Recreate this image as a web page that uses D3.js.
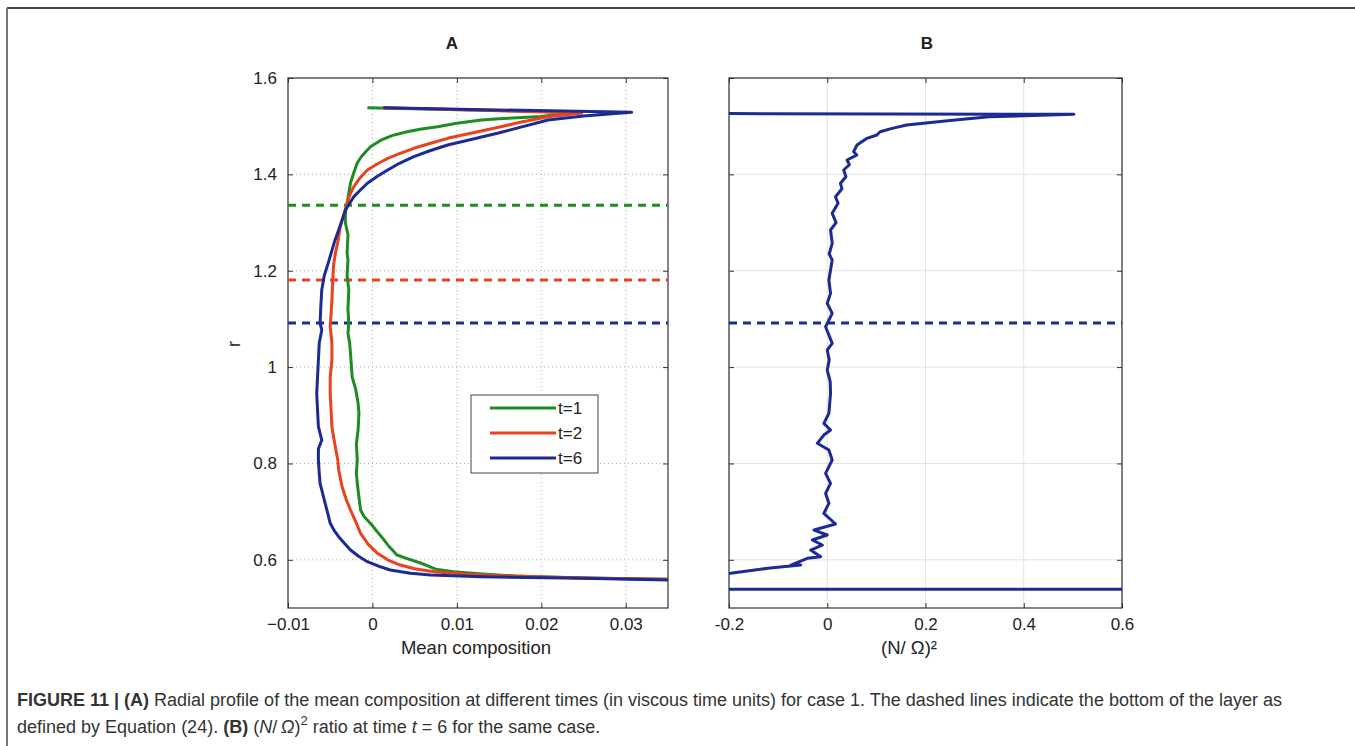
<!DOCTYPE html>
<html>
<head>
<meta charset="utf-8">
<script src="https://cdn.jsdelivr.net/npm/d3@7"></script>
<style>
  body { margin: 0; background: #fff; }
  text { font-family: "Liberation Sans", Arial, Helvetica, sans-serif; }
</style>
</head>
<body>
<svg id="fig" width="1355" height="746"></svg>
<script>
// ---- data: [value, r] ----
var profileT1 = [[-0.0006,1.538],[0.0242,1.529],[0.0200,1.520],[0.0155,1.516],[0.0129,1.513],[0.0100,1.506],[0.0077,1.499],[0.0058,1.494],[0.0041,1.4885],[0.0024,1.481],[0.0010,1.471],[-0.0002,1.458],[-0.0006,1.4506],[-0.0013,1.437],[-0.0018,1.4236],[-0.0022,1.404],[-0.0026,1.382],[-0.0028,1.361],[-0.0030,1.3406],[-0.0032,1.32],[-0.0032,1.299],[-0.0029,1.275],[-0.0030,1.2368],[-0.0029,1.2222],[-0.0030,1.19],[-0.0028,1.16],[-0.0029,1.12],[-0.0028,1.0915],[-0.0029,1.07],[-0.0027,1.05],[-0.0026,1.0292],[-0.0024,0.9794],[-0.0020,0.955],[-0.0017,0.9254],[-0.0016,0.9047],[-0.0017,0.87],[-0.0019,0.84],[-0.0018,0.8071],[-0.0019,0.78],[-0.0018,0.7594],[-0.0016,0.73],[-0.0014,0.7034],[-0.0010,0.69],[-0.0002,0.675],[0.0004,0.6618],[0.0012,0.645],[0.0020,0.627],[0.0029,0.61],[0.0042,0.602],[0.0057,0.5934],[0.0075,0.5805],[0.0096,0.5753],[0.0130,0.5705],[0.0168,0.5664],[0.0250,0.5625],[0.0352,0.5595],[0.045,0.5575]];

var profileT2 = [[0.0012,1.538],[0.0248,1.5275],[0.0208,1.5197],[0.0175,1.508],[0.0144,1.4956],[0.0115,1.485],[0.0089,1.4748],[0.0068,1.464],[0.0049,1.4541],[0.0032,1.443],[0.0018,1.4333],[0.0005,1.421],[-0.0006,1.4091],[-0.0015,1.392],[-0.0022,1.3744],[-0.0027,1.357],[-0.0030,1.34],[-0.0034,1.315],[-0.0038,1.2914],[-0.0041,1.26],[-0.0044,1.235],[-0.0046,1.2122],[-0.0047,1.18],[-0.0048,1.1392],[-0.0049,1.11],[-0.0050,1.0838],[-0.0048,1.05],[-0.0048,1.0147],[-0.0050,0.98],[-0.0050,0.9456],[-0.0049,0.91],[-0.0048,0.8763],[-0.0046,0.855],[-0.0044,0.8348],[-0.0041,0.8071],[-0.0040,0.7864],[-0.0036,0.7518],[-0.0031,0.725],[-0.0026,0.7034],[-0.0020,0.68],[-0.0014,0.655],[-0.0005,0.632],[0.0006,0.6135],[0.0018,0.6],[0.0033,0.5892],[0.0050,0.5815],[0.0073,0.5753],[0.0100,0.5715],[0.0129,0.5685],[0.0200,0.5645],[0.0300,0.5605],[0.045,0.5575]];

var profileT6 = [[0.0013,1.538],[0.0307,1.5288],[0.0250,1.521],[0.0208,1.5128],[0.0178,1.499],[0.0148,1.4852],[0.0118,1.473],[0.0089,1.4609],[0.0068,1.449],[0.0049,1.4367],[0.0032,1.423],[0.0018,1.4091],[0.0005,1.395],[-0.0006,1.3815],[-0.0014,1.368],[-0.0022,1.3537],[-0.0027,1.34],[-0.0032,1.326],[-0.0036,1.305],[-0.0040,1.2845],[-0.0045,1.26],[-0.0049,1.2361],[-0.0053,1.2122],[-0.0057,1.19],[-0.0060,1.1607],[-0.0061,1.13],[-0.0062,1.0909],[-0.0060,1.077],[-0.0063,1.05],[-0.0064,1.0147],[-0.0065,0.98],[-0.0066,0.9456],[-0.0065,0.91],[-0.0064,0.8763],[-0.0060,0.8486],[-0.0064,0.83],[-0.0064,0.8071],[-0.0063,0.78],[-0.0062,0.7588],[-0.0059,0.738],[-0.0056,0.7173],[-0.0053,0.697],[-0.0050,0.6758],[-0.0045,0.66],[-0.0040,0.648],[-0.0033,0.634],[-0.0026,0.6203],[-0.0016,0.607],[-0.0006,0.5961],[0.0008,0.5865],[0.0021,0.5788],[0.0045,0.572],[0.0069,0.5685],[0.0129,0.5649],[0.0248,0.5616],[0.0352,0.5581],[0.045,0.5565]];

var ratioT6 = [[-0.6,1.527],[0.502,1.5246],[0.33,1.5197],[0.25,1.512],[0.1616,1.5024],[0.13,1.495],[0.1077,1.4885],[0.101,1.4817],[0.0808,1.4748],[0.0606,1.4609],[0.0537,1.447],[0.060,1.44],[0.0404,1.4298],[0.045,1.42],[0.0335,1.4091],[0.038,1.395],[0.0269,1.3815],[0.030,1.37],[0.0168,1.3537],[0.022,1.34],[0.0101,1.3192],[0.018,1.30],[0.0067,1.2845],[0.0101,1.2569],[0.004,1.235],[0.0101,1.2222],[0.0067,1.2015],[0.0033,1.1807],[0.0067,1.153],[0,1.1323],[0.0101,1.1115],[-0.0034,1.0838],[0.0101,1.0493],[0,1.0355],[0.004,1.015],[0,0.9939],[0.006,0.97],[0.0067,0.9456],[0.0033,0.904],[-0.0069,0.8833],[0.0067,0.8694],[-0.0069,0.859],[-0.0202,0.8418],[0.0033,0.8279],[0.0101,0.8071],[-0.0034,0.7795],[0.0067,0.7588],[-0.0034,0.738],[0.0033,0.7173],[-0.0069,0.6965],[0.0168,0.6743],[-0.027,0.6618],[0,0.6515],[-0.0303,0.6411],[-0.0101,0.6307],[-0.0337,0.6203],[-0.0135,0.6064],[-0.0404,0.6031],[-0.0741,0.5892],[-0.054,0.5892],[-0.1212,0.5823],[-0.1968,0.5719],[-0.6,0.565],[-0.6,0.539],[0.9,0.539]];

var seriesNames = ["t=1", "t=2", "t=6"];
var layerBottomA = [1.336, 1.181, 1.0915];   // dashed lines, same order as series
var layerBottomB = [1.0915];
var rTicks = [0.6, 0.8, 1, 1.2, 1.4, 1.6];
var compTicks = [-0.01, 0, 0.01, 0.02, 0.03];
var ratioTicks = [-0.2, 0, 0.2, 0.4, 0.6];

var colors = ["#1f8b24", "#e8431f", "#1c2b93"];

//============================================================
// setup
//------------------------------------------------------------
var svg = d3.select("#fig");

// figure frame (top + left rule)
svg.append("line").attr("x1", 7).attr("x2", 1355).attr("y1", 8).attr("y2", 8)
  .attr("stroke", "#444").attr("stroke-width", 2);
svg.append("line").attr("x1", 7).attr("x2", 7).attr("y1", 8).attr("y2", 746)
  .attr("stroke", "#777").attr("stroke-width", 2);

var y = d3.scaleLinear().domain([0.5, 1.6]).range([608, 78]);
var xA = d3.scaleLinear().domain([-0.01, 0.035]).range([288, 668]);
var xB = d3.scaleLinear().domain([-0.2, 0.6]).range([729, 1122]);

function drawPanel(x, xTicks, xFmt, gridDash, gridColor, id, yLabels) {
  var g = svg.append("g");
  var x0 = x.range()[0], x1 = x.range()[1], y0 = y.range()[1], y1 = y.range()[0];

  // grid
  g.selectAll(".vg").data(xTicks).enter().append("line")
    .attr("x1", function(d) { return x(d); }).attr("x2", function(d) { return x(d); })
    .attr("y1", y0).attr("y2", y1)
    .attr("stroke", gridColor).attr("stroke-width", 1)
    .attr("stroke-dasharray", gridDash);
  g.selectAll(".hg").data(rTicks).enter().append("line")
    .attr("y1", function(d) { return y(d); }).attr("y2", function(d) { return y(d); })
    .attr("x1", x0).attr("x2", x1)
    .attr("stroke", gridColor).attr("stroke-width", 1)
    .attr("stroke-dasharray", gridDash);

  // axes with inward ticks
  g.append("g").attr("transform", "translate(0," + y1 + ")")
    .call(d3.axisBottom(x).tickValues(xTicks).tickFormat(xFmt).tickSizeInner(-5).tickSizeOuter(0).tickPadding(10));
  g.append("g").attr("transform", "translate(0," + y0 + ")")
    .call(d3.axisTop(x).tickValues(xTicks).tickFormat("").tickSizeInner(-5).tickSizeOuter(0));
  g.append("g").attr("transform", "translate(" + x0 + ",0)")
    .call(d3.axisLeft(y).tickValues(rTicks).tickFormat(yLabels ? d3.format("") : "").tickSizeInner(-5).tickSizeOuter(0).tickPadding(11));
  g.append("g").attr("transform", "translate(" + x1 + ",0)")
    .call(d3.axisRight(y).tickValues(rTicks).tickFormat("").tickSizeInner(-5).tickSizeOuter(0));

  g.selectAll(".domain").remove();
  g.selectAll(".tick line").attr("stroke", "#333");
  g.selectAll(".tick text").attr("font-size", 17).attr("fill", "#222");

  g.append("rect").attr("x", x0).attr("y", y0).attr("width", x1 - x0).attr("height", y1 - y0)
    .attr("fill", "none").attr("stroke", "#333").attr("stroke-width", 1.2);

  svg.append("clipPath").attr("id", id)
    .append("rect").attr("x", x0).attr("y", y0).attr("width", x1 - x0).attr("height", y1 - y0);
  return g;
}

//============================================================
// Panel A
//------------------------------------------------------------
drawPanel(xA, compTicks, function(d) { return d < 0 ? "\u2212" + Math.abs(d) : d; },
  "1,3", "#b0b0b0", "clipA", true);

var plotA = svg.append("g").attr("clip-path", "url(#clipA)");
var lineA = d3.line().x(function(d) { return xA(d[0]); }).y(function(d) { return y(d[1]); });

plotA.selectAll(".bottomA").data(layerBottomA).enter().append("line")
  .attr("x1", xA.range()[0]).attr("x2", xA.range()[1])
  .attr("y1", function(d) { return y(d); }).attr("y2", function(d) { return y(d); })
  .attr("stroke", function(d, i) { return colors[i]; })
  .attr("stroke-width", 3).attr("stroke-dasharray", "8,6");

[profileT1, profileT2, profileT6].forEach(function(p, i) {
  plotA.append("path").datum(p).attr("d", lineA)
    .attr("fill", "none").attr("stroke", colors[i])
    .attr("stroke-width", 3).attr("stroke-linejoin", "round");
});

// legend
var leg = svg.append("g").attr("transform", "translate(471,395)");
leg.append("rect").attr("width", 127).attr("height", 78)
  .attr("fill", "#fff").attr("stroke", "#444").attr("stroke-width", 1);
seriesNames.forEach(function(n, i) {
  var ly = 13 + i * 25;
  leg.append("line").attr("x1", 19).attr("x2", 85).attr("y1", ly).attr("y2", ly)
    .attr("stroke", colors[i]).attr("stroke-width", 3);
  leg.append("text").attr("x", 87).attr("y", ly).attr("dy", "0.35em")
    .attr("font-size", 17).attr("fill", "#222").text(n);
});

//============================================================
// Panel B
//------------------------------------------------------------
drawPanel(xB, ratioTicks, function(d) { return d < 0 ? "-" + Math.abs(d) : d; },
  null, "#e2e2e2", "clipB", false);

var plotB = svg.append("g").attr("clip-path", "url(#clipB)");
var lineB = d3.line().x(function(d) { return xB(d[0]); }).y(function(d) { return y(d[1]); });

plotB.selectAll(".bottomB").data(layerBottomB).enter().append("line")
  .attr("x1", xB.range()[0]).attr("x2", xB.range()[1])
  .attr("y1", function(d) { return y(d); }).attr("y2", function(d) { return y(d); })
  .attr("stroke", colors[2]).attr("stroke-width", 3).attr("stroke-dasharray", "8,6");

plotB.append("path").datum(ratioT6).attr("d", lineB)
  .attr("fill", "none").attr("stroke", colors[2])
  .attr("stroke-width", 3).attr("stroke-linejoin", "round");

//============================================================
// labels
//------------------------------------------------------------
svg.append("text").attr("x", 452).attr("y", 49).attr("text-anchor", "middle")
  .attr("font-size", 17).attr("font-weight", "bold").attr("fill", "#222").text("A");
svg.append("text").attr("x", 927).attr("y", 49).attr("text-anchor", "middle")
  .attr("font-size", 17).attr("font-weight", "bold").attr("fill", "#222").text("B");

svg.append("text").attr("transform", "translate(240,344) rotate(-90)")
  .attr("text-anchor", "middle").attr("font-size", 18).attr("fill", "#222").text("r");
svg.append("text").attr("x", 476).attr("y", 654).attr("text-anchor", "middle")
  .attr("font-size", 18.5).attr("fill", "#222").text("Mean composition");
svg.append("text").attr("x", 909).attr("y", 654).attr("text-anchor", "middle")
  .attr("font-size", 18.5).attr("fill", "#222").text("(N/ \u03A9)\u00B2");

// caption
var cap1 = svg.append("text").attr("x", 17).attr("y", 706).attr("font-size", 18).attr("fill", "#333");
cap1.append("tspan").attr("font-weight", "bold").text("FIGURE 11 | (A)");
cap1.append("tspan").text(" Radial profile of the mean composition at different times (in viscous time units) for case 1. The dashed lines indicate the bottom of the layer as");

var cap2 = svg.append("text").attr("x", 17).attr("y", 733).attr("font-size", 18).attr("fill", "#333");
cap2.append("tspan").text("defined by Equation (24). ");
cap2.append("tspan").attr("font-weight", "bold").text("(B)");
cap2.append("tspan").text(" (");
cap2.append("tspan").attr("font-style", "italic").text("N");
cap2.append("tspan").text("/\u2009");
cap2.append("tspan").attr("font-style", "italic").text("\u03A9");
cap2.append("tspan").text(")");
cap2.append("tspan").attr("dy", -8).attr("font-size", 13).text("2");
cap2.append("tspan").attr("dy", 8).text(" ratio at time ");
cap2.append("tspan").attr("font-style", "italic").text("t");
cap2.append("tspan").text(" = 6 for the same case.");
</script>
</body>
</html>
